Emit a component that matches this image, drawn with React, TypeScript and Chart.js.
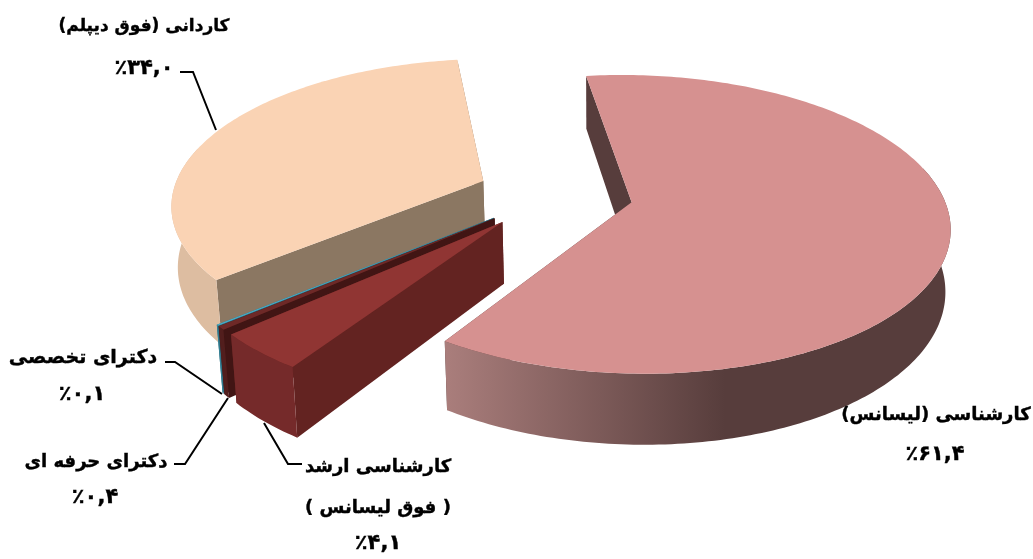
import React, { useEffect, useRef } from "react";
import { Chart, registerables } from "chart.js";

Chart.register(...registerables);

// Data, clockwise from the start of the largest slice
const categories = ["کارشناسی (لیسانس)", "کارشناسی ارشد ( فوق لیسانس )", "دکترای حرفه ای", "دکترای تخصصی", "کاردانی (فوق دیپلم)"];
const shares = [61.4, 4.1, 0.4, 0.1, 34.0];
const percentTexts = ["٪۶۱,۴", "٪۴,۱", "٪۰,۴", "٪۰,۱", "٪۳۴,۰"];
const topColors = ["#D69190", "#903533", "#6E2927", "#4BACC6", "#FAD3B4"];
const cutColors = ["#573D3C", "#632321", "#411514", "#2C6A7C", "#8B7762"];
const wallColors = ["#573D3C", "#752A2A", "#521E1D", "#358296", "#DDBDA1"];

// label layout: [text, centre x, centre y, font px]
const labelRows: [string, number, number, number][] = [
  ["کاردانی (فوق دیپلم)", 144, 27, 17],
  [percentTexts[4], 144, 69, 21],
  ["دکترای تخصصی", 83, 358, 19],
  [percentTexts[3], 82, 395, 21],
  ["دکترای حرفه ای", 96, 462, 18],
  [percentTexts[2], 95, 498, 21],
  ["کارشناسی ارشد", 378, 467, 18],
  ["( فوق لیسانس )", 378, 508, 18],
  [percentTexts[1], 378, 544, 21],
  ["کارشناسی (لیسانس)", 936, 415, 18],
  [percentTexts[0], 935, 455, 21],
];
const leaders: [number, number][][] = [
  [[180, 72], [193, 72], [216, 130]],
  [[165, 362], [175, 362], [222, 394]],
  [[174, 464], [185, 464], [228, 398]],
  [[302, 464], [288, 464], [264, 423]],
];

const PERSPECTIVE = 0.147;
const TILT = 0.462;
const DEPTH = 60;
const NADIR_X = 600;
const NADIR_SHIFT = 0.015;

const pie3d = {
  id: "pie3d",
  beforeDatasetDraw(chart: any, args: any) {
    const ctx: CanvasRenderingContext2D = chart.ctx;
    const arcs = chart.getDatasetMeta(args.index).data;
    for (let i = arcs.length - 1; i >= 0; i--) {
      const arc = arcs[i];
      const { x, y, startAngle, endAngle, outerRadius: R } = arc;
      const off = arc.options.offset;
      const mid = (startAngle + endAngle) / 2;
      const project = (angle: number, r: number, low: boolean) => {
        const u = (r * Math.cos(angle) + off * Math.cos(mid)) / R;
        const v = -(r * Math.sin(angle) + off * Math.sin(mid)) / R;
        const w = 1 + PERSPECTIVE * v;
        let sx = x + (u * R) / w;
        let sy = y - (v * R * TILT) / w;
        if (low) {
          sy += DEPTH / w;
          sx += (NADIR_X - sx) * NADIR_SHIFT;
        }
        return [sx, sy];
      };
      const steps = Math.max(2, Math.ceil(((endAngle - startAngle) * 180) / Math.PI));
      const angles: number[] = [];
      for (let s = 0; s <= steps; s++) angles.push(startAngle + ((endAngle - startAngle) * s) / steps);
      const poly = (pts: number[][], fill: any) => {
        ctx.beginPath();
        pts.forEach((p, k) => (k ? ctx.lineTo(p[0], p[1]) : ctx.moveTo(p[0], p[1])));
        ctx.closePath();
        ctx.fillStyle = fill;
        ctx.fill();
      };
      const apexTop = project(0, 0, false);
      const apexLow = project(0, 0, true);
      // cut faces
      poly([apexTop, project(endAngle, R, false), project(endAngle, R, true), apexLow], cutColors[i]);
      poly([apexTop, project(startAngle, R, false), project(startAngle, R, true), apexLow], cutColors[i]);
      // outer wall: only the part that faces the viewer
      const facing = angles.filter((a) => Math.sin(a) > -0.25);
      if (facing.length > 1) {
        const wallPts = [...facing.map((a) => project(a, R, false)), ...facing.slice().reverse().map((a) => project(a, R, true))];
        let wallFill: any = wallColors[i];
        if (i === 0) {
          const g = ctx.createLinearGradient(445, 0, 725, 0);
          g.addColorStop(0, "#AA7E7C");
          g.addColorStop(1, wallColors[0]);
          wallFill = g;
        }
        poly(wallPts, wallFill);
      }
      // top face
      poly([apexTop, ...angles.map((a) => project(a, R, false))], arc.options.backgroundColor);
    }
    return false;
  },
  afterDraw(chart: any) {
    const ctx: CanvasRenderingContext2D = chart.ctx;
    ctx.save();
    ctx.strokeStyle = "#000";
    ctx.lineWidth = 2;
    leaders.forEach((pts) => {
      ctx.beginPath();
      pts.forEach((p, k) => (k ? ctx.lineTo(p[0], p[1]) : ctx.moveTo(p[0], p[1])));
      ctx.stroke();
    });
    ctx.fillStyle = "#000";
    ctx.textAlign = "center";
    ctx.textBaseline = "middle";
    ctx.lineWidth = 0.4;
    labelRows.forEach(([text, x, y, size]) => {
      ctx.font = `bold ${size}px 'DejaVu Sans'`;
      ctx.direction = text.startsWith("٪") ? "ltr" : "rtl";
      ctx.fillText(text, x, y);
      ctx.strokeText(text, x, y);
    });
    ctx.restore();
  },
};

export default function App() {
  const ref = useRef<HTMLCanvasElement>(null);
  useEffect(() => {
    const chart = new Chart(ref.current!, {
      type: "pie",
      data: {
        labels: categories,
        datasets: [{ data: shares, backgroundColor: topColors, borderWidth: 0, offset: 78, clip: false } as any],
      },
      options: {
        responsive: false,
        animation: false,
        rotation: -7.5,
        radius: 311,
        layout: { padding: { left: 77, bottom: 171 } },
        plugins: { legend: { display: false }, tooltip: { enabled: false } },
      } as any,
      plugins: [pie3d],
    });
    return () => chart.destroy();
  }, []);
  return (
    <div style={{ position: "fixed", left: 0, top: 0, width: 1033, height: 559, background: "#fff" }}>
      <canvas ref={ref} width={1033} height={559} style={{ display: "block" }} />
    </div>
  );
}
